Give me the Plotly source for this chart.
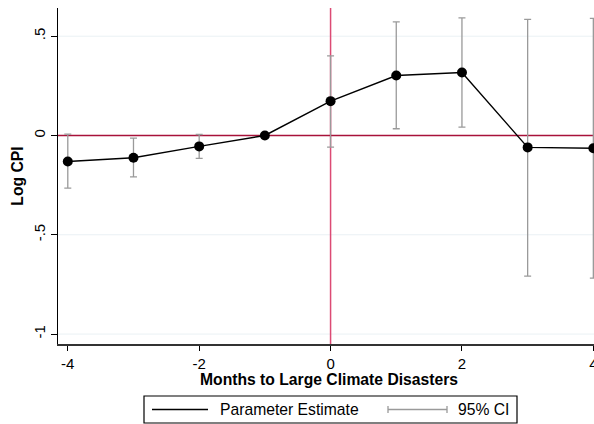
import plotly.graph_objects as go

months = [-4, -3, -2, -1, 0, 1, 2, 3, 4]
estimate = [-0.131, -0.112, -0.055, 0.0, 0.173, 0.302, 0.317, -0.060, -0.064]
ci_upper = [0.007, -0.013, 0.005, 0.0, 0.401, 0.572, 0.592, 0.585, 0.590]
ci_lower = [-0.265, -0.208, -0.115, 0.0, -0.059, 0.034, 0.042, -0.708, -0.718]
y_ticks = [-1, -0.5, 0, 0.5]
y_tick_labels = ["-1", "-.5", "0", ".5"]
x_ticks = [-4, -2, 0, 2, 4]

W_FIG, H_FIG = 594, 424
ML, MR, MT, MB = 58, 0, 8, 80
PW = W_FIG - ML - MR
PH = H_FIG - MT - MB


def px(x):  # page pixel -> paper
    return (x - ML) / PW


def py(y):
    return (H_FIG - MB - y) / PH


FONT = "Liberation Sans, Arial, sans-serif"
FS = 15

fig = go.Figure()

# light horizontal gridlines (except at 0, where the red line sits)
for yv in y_ticks:
    if yv != 0:
        fig.add_shape(type="line", xref="paper", yref="y", x0=0, x1=1, y0=yv, y1=yv,
                      line=dict(color="#eaf1f4", width=1), layer="below")

# reference lines
fig.add_shape(type="line", xref="x", yref="paper", x0=0, x1=0, y0=0, y1=1,
              line=dict(color="#dc4a74", width=1.5), layer="below")
fig.add_shape(type="line", xref="paper", yref="y", x0=0, x1=1, y0=0, y1=0,
              line=dict(color="#a8123a", width=1.5), layer="below")

err_plus = [u - e for u, e in zip(ci_upper, estimate)]
err_minus = [e - l for e, l in zip(estimate, ci_lower)]

fig.add_trace(go.Scatter(
    x=months, y=estimate, mode="markers",
    marker=dict(size=0.1, color="rgba(0,0,0,0)"),
    error_y=dict(type="data", array=err_plus, arrayminus=err_minus,
                 color="#9a9a9a", thickness=1.3, width=3.5),
    showlegend=False, hoverinfo="skip",
))
fig.add_trace(go.Scatter(
    x=months, y=estimate, mode="lines+markers",
    line=dict(color="black", width=1.4),
    marker=dict(size=10, color="black"),
    showlegend=False,
))

# x-axis title
fig.add_annotation(xref="paper", yref="paper", x=px(329), y=py(379),
                   text="<b>Months to Large Climate Disasters</b>", showarrow=False,
                   xanchor="center", yanchor="middle",
                   font=dict(family=FONT, size=FS + 0.7, color="black"))

# custom legend
box_l, box_r, box_t, box_b = 144, 517, 396, 423
fig.add_shape(type="rect", xref="paper", yref="paper",
              x0=px(box_l), x1=px(box_r), y0=py(box_b), y1=py(box_t),
              line=dict(color="black", width=1.2), fillcolor="white")
ly = py((box_t + box_b) / 2)
fig.add_shape(type="line", xref="paper", yref="paper",
              x0=px(152), x1=px(208), y0=ly, y1=ly,
              line=dict(color="black", width=1.4))
fig.add_shape(type="line", xref="paper", yref="paper",
              x0=px(388), x1=px(447), y0=ly, y1=ly,
              line=dict(color="#9a9a9a", width=1.3))
for xc in (388, 447):
    fig.add_shape(type="line", xref="paper", yref="paper",
                  x0=px(xc), x1=px(xc), y0=py(406), y1=py(413),
                  line=dict(color="#9a9a9a", width=1.3))
fig.add_annotation(xref="paper", yref="paper", x=px(218), y=ly,
                   text="Parameter Estimate", showarrow=False,
                   xanchor="left", yanchor="middle",
                   font=dict(family=FONT, size=FS + 0.7, color="black"))
fig.add_annotation(xref="paper", yref="paper", x=px(456), y=ly,
                   text="95% CI", showarrow=False,
                   xanchor="left", yanchor="middle",
                   font=dict(family=FONT, size=FS + 0.7, color="black"))

fig.update_layout(
    width=W_FIG, height=H_FIG,
    margin=dict(l=ML, r=MR, t=MT, b=MB, pad=0),
    paper_bgcolor="white", plot_bgcolor="white",
    font=dict(family=FONT, size=FS, color="black"),
    showlegend=False,
    xaxis=dict(
        range=[-4.149, 4.01], tickvals=x_ticks, ticktext=[str(v) for v in x_ticks],
        showgrid=False, zeroline=False, automargin=False,
        showline=True, linecolor="#333333", linewidth=1.5,
        ticks="outside", ticklen=5, tickcolor="black", tickwidth=1,
        tickfont=dict(size=FS), ticklabeloverflow="allow",
    ),
    yaxis=dict(
        range=[-1.05, 0.642], tickvals=y_ticks, ticktext=y_tick_labels,
        showgrid=False, zeroline=False, automargin=False,
        showline=True, linecolor="black", linewidth=1,
        ticks="outside", ticklen=6, tickcolor="black", tickwidth=1,
        tickangle=-90, tickfont=dict(size=FS),
        title=dict(text="<b>Log CPI</b>", font=dict(size=FS + 0.7), standoff=3),
    ),
)

fig.write_html(
    "out.html",
    config={"displayModeBar": False},
    post_script="document.body.style.margin='0';document.body.style.overflow='hidden';",
)
